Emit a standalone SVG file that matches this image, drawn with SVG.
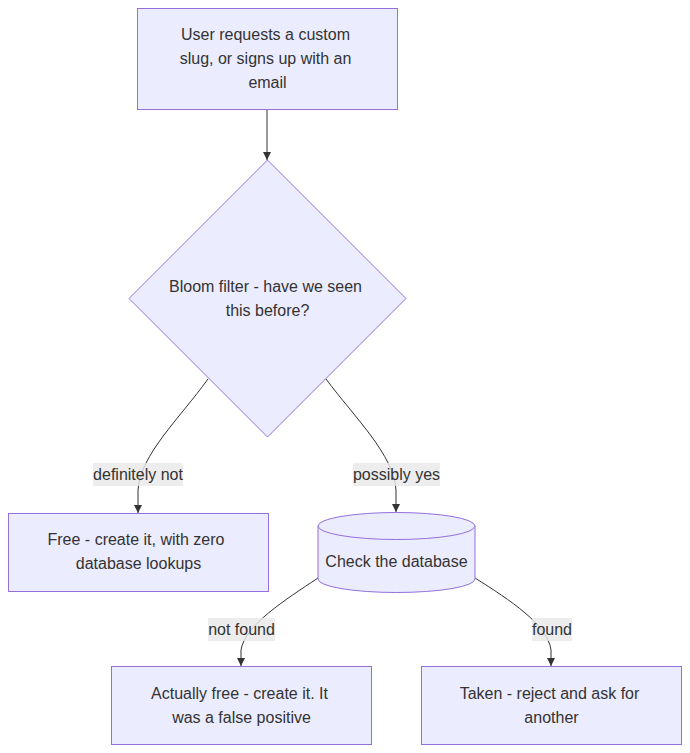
<svg xmlns="http://www.w3.org/2000/svg" width="690" height="753" viewBox="0 0 690 753">
<style>
.node{fill:#ECECFF;stroke:#9370DB;stroke-width:1}
.t{font-family:"Liberation Sans",Arial,sans-serif;font-size:16px;fill:#333;text-anchor:middle}
.edge{fill:none;stroke:#333;stroke-width:1}
.lbl{fill:#e8e8e8;fill-opacity:0.8}
</style>
<defs>
<marker id="arr" viewBox="0 0 10 10" refX="10" refY="5" markerWidth="8" markerHeight="8" markerUnits="userSpaceOnUse" orient="auto">
<path d="M0,0 L10,5 L0,10 z" fill="#333"/>
</marker>
</defs>
<rect width="690" height="753" fill="#fff"/>
<g id="connectors">
<path class="edge" d="M267,110 L267,160" marker-end="url(#arr)"/>
<path class="edge" d="M208,379 C180,418 140,455 138,490 L138,513" marker-end="url(#arr)"/>
<path class="edge" d="M326,379 C355,418 394,455 396,490 L396,512" marker-end="url(#arr)"/>
<path class="edge" d="M318,578 C285,600 245,625 241,650 L241,666" marker-end="url(#arr)"/>
<path class="edge" d="M475,578 C510,600 548,625 551,650 L551,666" marker-end="url(#arr)"/>
</g>
<g id="edge-labels">
<rect class="lbl" x="93" y="463" width="90" height="23"/>
<text class="t" x="138" y="480">definitely not</text>
<rect class="lbl" x="353" y="463" width="87" height="23"/>
<text class="t" x="396.5" y="480">possibly yes</text>
<rect class="lbl" x="208" y="618" width="67" height="23"/>
<text class="t" x="241.5" y="635">not found</text>
<rect class="lbl" x="532" y="618" width="40" height="23"/>
<text class="t" x="552" y="635">found</text>
</g>
<g id="start">
<rect class="node" x="137.5" y="8.5" width="260" height="101"/>
<text class="t" x="265.5" y="40">User requests a custom</text>
<text class="t" x="265.5" y="64">slug, or signs up with an</text>
<text class="t" x="267.5" y="88">email</text>
</g>
<g id="bloom">
<polygon class="node" points="267.5,160 406,298.5 267.5,437 129,298.5"/>
<text class="t" x="265.5" y="292">Bloom filter - have we seen</text>
<text class="t" x="267.5" y="316">this before?</text>
</g>
<g id="free">
<rect class="node" x="8.5" y="513.5" width="260" height="78"/>
<text class="t" x="136" y="545">Free - create it, with zero</text>
<text class="t" x="138.5" y="569">database lookups</text>
</g>
<g id="db">
<path class="node" d="M318,526 A78.5,13.5 0 0 1 475,526 L475,579 A78.5,13.5 0 0 1 318,579 Z"/>
<path class="node" d="M318,526 A78.5,13.5 0 0 0 475,526" fill="none"/>
<text class="t" x="396.5" y="567">Check the database</text>
</g>
<g id="actually-free">
<rect class="node" x="111.5" y="666.5" width="260" height="78"/>
<text class="t" x="239.5" y="699">Actually free - create it. It</text>
<text class="t" x="241.5" y="723">was a false positive</text>
</g>
<g id="taken">
<rect class="node" x="421.5" y="666.5" width="260" height="78"/>
<text class="t" x="549.5" y="699">Taken - reject and ask for</text>
<text class="t" x="551.5" y="723">another</text>
</g>
</svg>
